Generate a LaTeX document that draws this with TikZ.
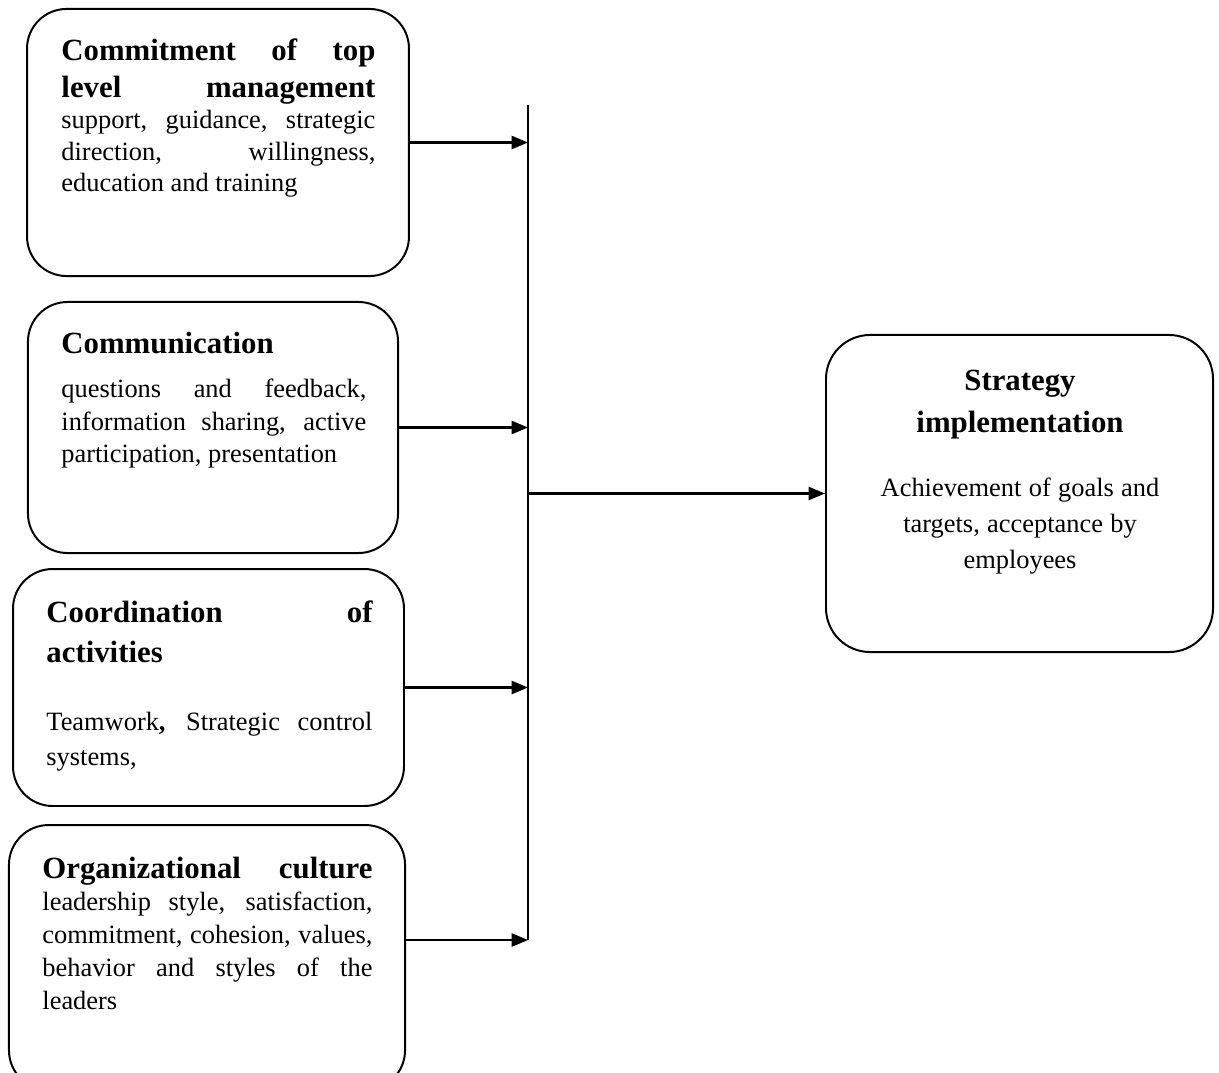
\documentclass[tikz,border=0pt]{standalone}
\usepackage{fontspec}
\setmainfont{Liberation Serif}
\usetikzlibrary{arrows.meta, positioning}
\newcommand{\headsize}[1]{\fontsize{14pt}{#1}\selectfont\bfseries}
\newcommand{\bodysize}[1]{\fontsize{12pt}{#1}\selectfont}
\tikzstyle{arrow} = [line width=1pt, -{Triangle[length=7.5pt, width=6pt]}]
\tikzstyle{factorbox} = [rectangle, draw, line width=0.9pt, rounded corners=18pt, inner sep=0pt]
\tikzstyle{factortext} = [inner sep=0pt, anchor=base west, align=justify]

\begin{document}
\begin{tikzpicture}[x=0.4545pt, y=-0.4545pt]
    \useasboundingbox (0,0) rectangle (1219,1072);
    \clip (0,0) rectangle (1219,1072);

    % Factor boxes
    \node[factorbox, minimum width=173.6pt, minimum height=121.4pt] (commit) at (218,142.5) {};
    \node[factorbox, minimum width=168.2pt, minimum height=114.1pt] (comm) at (213,427.5) {};
    \node[factorbox, minimum width=177.7pt, minimum height=107.7pt] (coord) at (208.5,687.5) {};
    \node[factorbox, minimum width=180pt, minimum height=120.4pt] (culture) at (207,957.5) {};
    \node[factorbox, rounded corners=20pt, minimum width=175.9pt, minimum height=144.1pt] (strat) at (1019.5,493.5) {};

    % Box texts
    \node[factortext, text width=142.7pt] (committxt) at (61,61) {%
        {\headsize{16.8pt}\parfillskip=0pt Commitment of top\linebreak level management\par}
        {\bodysize{14.1pt}support, guidance, strategic\linebreak direction, willingness,\linebreak education and training\par}};
    \node[factortext, text width=138.6pt] (commtxt) at (61,353) {%
        {\headsize{16.8pt}Communication\par}
        \vspace{5.5pt}
        {\bodysize{14.8pt}questions and feedback,\linebreak information sharing, active\linebreak participation, presentation\par}};
    \node[factortext, text width=148.2pt] (coordtxt) at (46,622) {%
        {\headsize{18.2pt}Coordination of\linebreak activities\par}
        \vspace{15pt}
        {\bodysize{15.9pt}Teamwork\textbf{,} Strategic control\linebreak systems,\par}};
    \node[factortext, text width=150pt] (culturetxt) at (42,878) {%
        {\headsize{16.8pt}\parfillskip=0pt Organizational culture\par}
        {\bodysize{14.9pt}leadership style, satisfaction,\linebreak commitment, cohesion, values,\linebreak behavior and styles of the\linebreak leaders\par}};
    \node[factortext, anchor=base, align=center, text width=131.8pt] (strattxt) at (1020,390) {%
        {\headsize{19.1pt}Strategy\\implementation\par}
        \vspace{12.7pt}
        {\bodysize{16.4pt}Achievement of goals and\\targets, acceptance by\\employees\par}};

    % Collector line and arrows
    \coordinate (bustop) at (528,105);
    \coordinate (busbot) at (528,940);
    \coordinate (busmid) at (528,493.5);
    \draw[line width=0.9pt] (bustop) -- (busbot);
    \draw[arrow] (commit.east) -- (commit.east -| bustop);
    \draw[arrow] (comm.east) -- (comm.east -| bustop);
    \draw[arrow] (coord.east) -- (coord.east -| bustop);
    \draw[arrow] (culture.east |- busbot) -- (busbot);
    \draw[arrow] (busmid) -- (strat.west);
\end{tikzpicture}
\end{document}
